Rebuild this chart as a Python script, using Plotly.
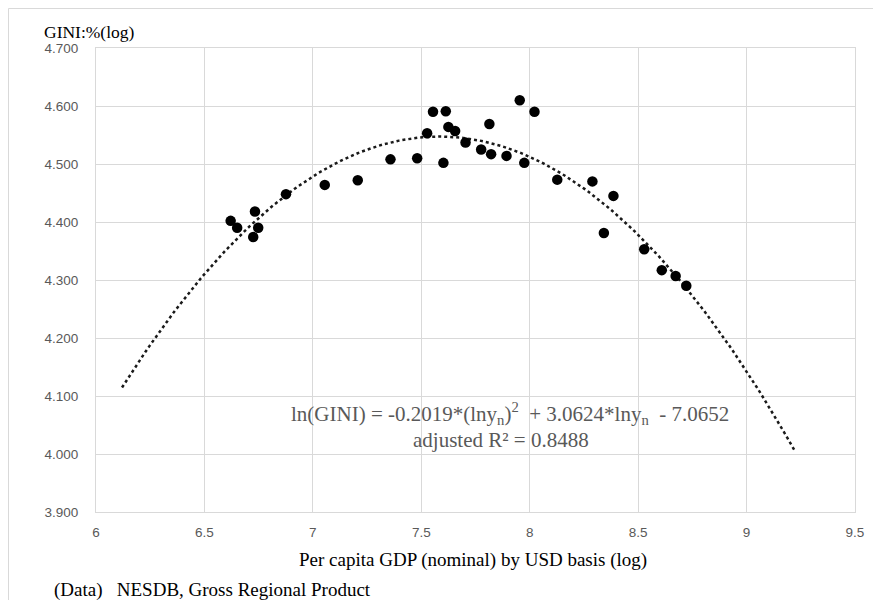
import numpy as np
import plotly.graph_objects as go

# Data (log per-capita GDP vs log GINI)
gdp_log = [6.621, 6.651, 6.733, 6.748, 6.725, 6.876, 7.055, 7.207, 7.358, 7.481,
           7.527, 7.554, 7.613, 7.602, 7.625, 7.656, 7.704, 7.776, 7.814, 7.822,
           7.893, 7.954, 7.975, 8.022, 8.127, 8.289, 8.386, 8.342, 8.528, 8.609,
           8.673, 8.722]
gini_log = [4.402, 4.390, 4.418, 4.390, 4.374, 4.448, 4.464, 4.472, 4.508, 4.510,
            4.553, 4.590, 4.591, 4.502, 4.564, 4.557, 4.537, 4.525, 4.569, 4.517,
            4.514, 4.610, 4.502, 4.590, 4.473, 4.470, 4.445, 4.381, 4.353, 4.317,
            4.307, 4.290]

# Quadratic trendline coefficients shown on the chart
coef_a, coef_b, coef_c = -0.2019, 3.0624, -7.0652
trend_start, trend_end = 6.12, 9.22

x_ticks = [6, 6.5, 7, 7.5, 8, 8.5, 9, 9.5]
y_ticks = [3.9, 4.0, 4.1, 4.2, 4.3, 4.4, 4.5, 4.6, 4.7]

trend_x = np.linspace(trend_start, trend_end, 200)
trend_y = coef_a * trend_x**2 + coef_b * trend_x + coef_c

# page has an 8px body margin; work in screen coords and convert
OFF = 8
W, H = 881 - OFF, 600 - OFF
PL, PR, PT, PB = 96, 855, 48, 512  # plot area in screen pixels
L, R, T, B = PL - OFF, W - (PR - OFF), PT - OFF, H - (PB - OFF)

fig = go.Figure()
fig.add_trace(go.Scatter(x=trend_x, y=trend_y, mode="lines",
                         line=dict(color="#1a1a1a", width=2.5, dash="dot"),
                         hoverinfo="skip", showlegend=False))
fig.add_trace(go.Scatter(x=gdp_log, y=gini_log, mode="markers",
                         marker=dict(color="black", size=10.5),
                         showlegend=False))

tick_font = dict(family="Liberation Sans, Arial, sans-serif", size=13.5, color="#595959")
serif = "Liberation Serif"

fig.update_xaxes(range=[6, 9.5], tickvals=x_ticks,
                 ticktext=[f"{v:g}" for v in x_ticks],
                 showgrid=True, gridcolor="#d9d9d9", gridwidth=1,
                 showline=True, linecolor="#d9d9d9", linewidth=1, mirror=True,
                 zeroline=False, ticks="outside", ticklen=8,
                 tickcolor="rgba(0,0,0,0)", tickfont=tick_font)
fig.update_yaxes(range=[3.9, 4.7], tickvals=y_ticks,
                 ticktext=[f"{v:.3f}" for v in y_ticks],
                 showgrid=True, gridcolor="#d9d9d9", gridwidth=1,
                 showline=True, linecolor="#d9d9d9", linewidth=1, mirror=True,
                 zeroline=False, ticks="outside", ticklen=14,
                 tickcolor="rgba(0,0,0,0)", tickfont=tick_font)

pw, ph = PR - PL, PB - PT
def px_x(p):
    return (p - PL) / pw
def px_y(p):
    return (PB - p) / ph

annotations = [
    dict(text="GINI:%(log)", x=px_x(42), y=px_y(32), xref="paper", yref="paper",
         xanchor="left", yanchor="middle", showarrow=False,
         font=dict(family=serif, size=17.5, color="black")),
    dict(text="Per capita GDP (nominal) by USD basis (log)", x=px_x(473), y=px_y(560),
         xref="paper", yref="paper", xanchor="center", yanchor="middle", showarrow=False,
         font=dict(family=serif, size=19, color="black")),
    dict(text="(Data)\u00a0\u00a0 NESDB, Gross Regional Product", x=px_x(52), y=px_y(590),
         xref="paper", yref="paper", xanchor="left", yanchor="middle", showarrow=False,
         font=dict(family=serif, size=19, color="black")),
    dict(text="ln(GINI) = -0.2019*(lny<sub>n</sub>)<sup>2</sup>\u00a0 + 3.0624*lny<sub>n</sub>\u00a0 - 7.0652",
         x=px_x(731), y=px_y(413), xref="paper", yref="paper",
         xanchor="right", yanchor="middle", showarrow=False,
         font=dict(family=serif, size=21, color="#595959")),
    dict(text="adjusted R² = 0.8488", x=px_x(501), y=px_y(440), xref="paper", yref="paper",
         xanchor="center", yanchor="middle", showarrow=False,
         font=dict(family=serif, size=21, color="#595959")),
]

shapes = [
    dict(type="rect", xref="paper", yref="paper",
         x0=px_x(8.5), x1=px_x(900), y0=px_y(620), y1=px_y(8.5),
         line=dict(color="#d9d9d9", width=1), fillcolor="rgba(0,0,0,0)", layer="below"),
]

fig.update_layout(width=W, height=H, margin=dict(l=L, r=R, t=T, b=B),
                  paper_bgcolor="white", plot_bgcolor="white",
                  annotations=annotations, shapes=shapes, showlegend=False)

fig.write_html("out.html")
